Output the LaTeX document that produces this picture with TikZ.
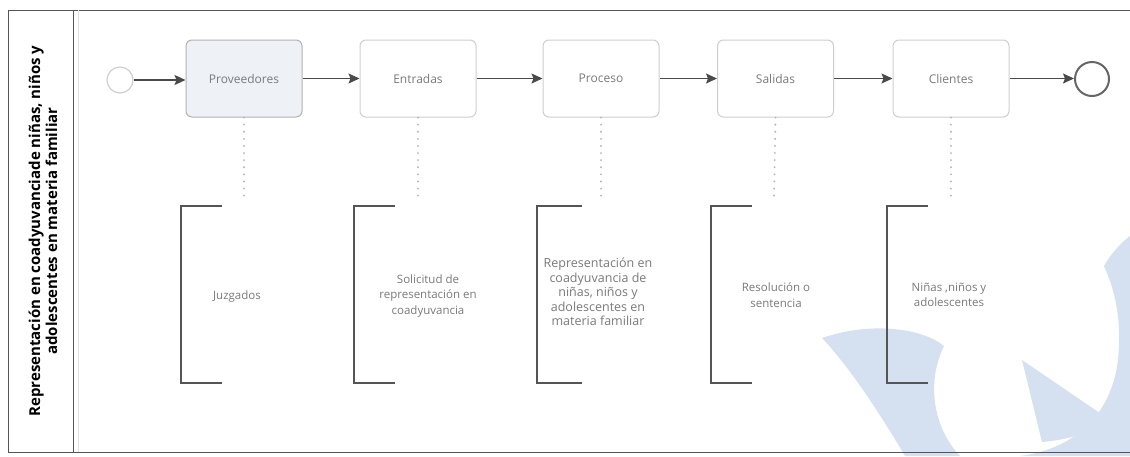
\documentclass[tikz,border=0pt]{standalone}
\usepackage{fontspec}
\setmainfont{Open Sans}
\usetikzlibrary{arrows.meta}
\definecolor{framec}{HTML}{555555}
\definecolor{flowc}{HTML}{4A4A4A}
\definecolor{boxc}{HTML}{CFCFCF}
\definecolor{boxfill}{HTML}{EEF2F6}
\definecolor{labelc}{HTML}{7A7A7A}
\definecolor{dotc}{HTML}{B5B5B5}
\definecolor{markc}{HTML}{D5E1F1}
\tikzset{
  taskbox/.style={draw=boxc, line width=1pt, rounded corners=6pt, minimum width=116pt,
    minimum height=77pt, font=\fontsize{12}{14}\selectfont, text=labelc},
  flow/.style={draw=flowc, line width=1.2pt, -{Stealth[length=11pt,width=10pt,inset=2pt]}},
  assoc/.style={draw=dotc, line width=2pt, dash pattern=on 0.1pt off 7pt, line cap=round},
  bracket/.style={draw=framec, line width=1.2pt},
  annot/.style={align=center, font=\fontsize{11.5}{15.5}\selectfont, text=labelc},
  lanetitle/.style={rotate=90, align=center, font=\bfseries\fontsize{15}{17}\selectfont, text=black}
}
\begin{document}
\begin{tikzpicture}[x=1pt, y=-1pt]
\useasboundingbox (0,0) rectangle (1130,456);
\fill[white] (0,0) rectangle (1130,456);

% faint logo shapes in the background
\begin{scope}[fill=markc]
  \fill (822,338) .. controls (875,320) and (925,330) .. (944,346)
        .. controls (925,385) and (935,430) .. (960,456)
        -- (905,456) .. controls (875,405) and (845,362) .. cycle;
  \fill (1022,360) -- (1110,420) .. controls (1090,434) and (1065,440) .. (1042,442) -- cycle;
  \fill (1020,456) .. controls (1080,448) and (1112,410) .. (1118,360)
        .. controls (1122,320) and (1115,290) .. (1104,266)
        .. controls (1112,252) and (1122,242) .. (1130,236) -- (1130,456) -- cycle;
\end{scope}

% pool frame and lane header
\draw[framec, line width=1pt] (1130,10) -- (8,10) -- (8,452) -- (1130,452);
\draw[framec, line width=1pt] (73,10) -- (73,452);
\draw[black!12, line width=0.6pt] (78,10) -- (78,452);
\node[lanetitle] (lane) at (43,231) {Representación en coadyuvanciade niñas, niños y\\adolescentes en materia familiar};

% events
\node[circle, draw=boxc, line width=1.2pt, minimum size=26pt, inner sep=0pt] (start) at (120,80) {};
\node[circle, draw=black!60, line width=2pt, minimum size=34pt, inner sep=0pt] (end) at (1092,79) {};

% tasks
\node[taskbox, fill=boxfill, draw=black!30] (prov) at (244,78.5) {Proveedores};
\node[taskbox] (ent) at (418,78.5) {Entradas};
\node[taskbox] (proc) at (601,78.5) {Proceso};
\node[taskbox] (sal) at (775.5,78.5) {Salidas};
\node[taskbox] (cli) at (951,78.5) {Clientes};

% sequence flows
\draw[flow] (start) -- (start -| prov.west);
\draw[flow] (prov) -- (ent);
\draw[flow] (ent) -- (proc);
\draw[flow] (proc) -- (sal);
\draw[flow] (sal) -- (cli);
\draw[flow] (cli.east) -- (cli.east -| end.west);

% associations to the annotations
\coordinate (aprov) at (244,201);
\coordinate (aent) at (418,201);
\coordinate (aproc) at (601,201);
\coordinate (asal) at (774,201);
\coordinate (acli) at (951,201);
\draw[assoc] (prov.south) -- (aprov);
\draw[assoc] (ent.south) -- (aent);
\draw[assoc] (proc.south) -- (aproc);
\draw[assoc] (sal.south) -- (asal);
\draw[assoc] (cli.south) -- (acli);

% text annotations
\draw[bracket] (222,206) -- (181,206) -- (181,383) -- (222,383);
\draw[bracket] (395,206) -- (354,206) -- (354,383) -- (395,383);
\draw[bracket] (582,206) -- (537,206) -- (537,383) -- (582,383);
\draw[bracket] (752,206) -- (711,206) -- (711,383) -- (752,383);
\draw[bracket] (928,206) -- (887,206) -- (887,383) -- (928,383);

\node[annot] (tprov) at (237,297) {Juzgados};
\node[annot] (tent) at (428,296) {Solicitud de\\representación en\\coadyuvancia};
\node[annot, font=\fontsize{12.5}{14.5}\selectfont] (tproc) at (598,292) {Representación en\\coadyuvancia de\\niñas, niños y\\adolescentes en\\materia familiar};
\node[annot] (tsal) at (776,295) {Resolución o\\sentencia};
\node[annot] (tcli) at (949,295) {Niñas ,niños y\\adolescentes};
\end{tikzpicture}
\end{document}
